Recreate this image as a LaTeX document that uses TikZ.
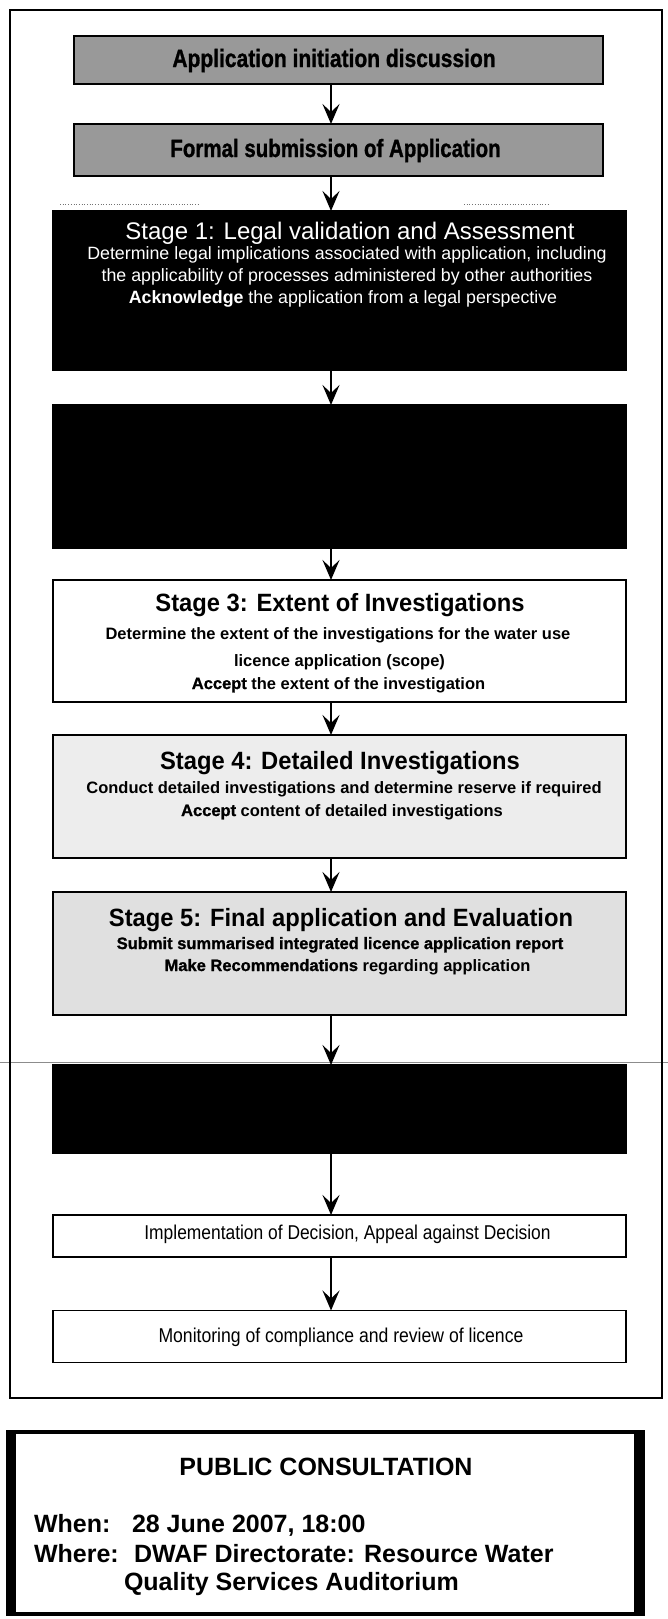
\documentclass[tikz,border=0pt]{standalone}
\usepackage{fontspec}
\setmainfont{Liberation Sans}
\newfontfamily\heavyfont{Liberation Sans Bold}[FakeBold=1.2]
\usepackage{graphicx}
\usetikzlibrary{arrows.meta}
\begin{document}
\begin{tikzpicture}[x=1pt,y=-1pt,
  stagebox/.style={draw=black, line width=1.8pt, inner sep=0pt, outer sep=0pt, minimum width=573pt},
  graybox/.style={draw=black, line width=1.8pt, fill=black!40, inner sep=0pt, outer sep=0pt, minimum width=529pt},
  txt/.style={anchor=base, inner sep=0pt, outer sep=0pt},
  arr/.style={line width=2.5pt, -{Stealth[length=20pt,width=17pt,inset=8pt]}},
  grayfont/.style={font=\fontsize{25}{30}\selectfont\heavyfont},
  whitetitle/.style={font=\fontsize{24}{28}\selectfont, text=white},
  whitebody/.style={font=\fontsize{17.8}{21}\selectfont, text=white},
  titlefont/.style={font=\fontsize{25}{30}\selectfont\bfseries},
  bodyfont/.style={font=\fontsize{16.5}{20}\selectfont\bfseries},
  plainfont/.style={font=\fontsize{20}{24}\selectfont},
  pcfont/.style={font=\fontsize{25}{30}\selectfont\bfseries}
]
\useasboundingbox (0,0) rectangle (668,1619);
\fill[white] (0,0) rectangle (668,1619);

% scan line across the page
\draw[black!45, line width=0.8pt] (0,1062) -- (668,1062);

% outer frame
\draw[line width=2.2pt] (10,10) rectangle (662,1398);

% faint dotted scan marks above stage 1
\draw[black!55, dotted, line width=0.7pt] (60,204) -- (200,204);
\draw[black!55, dotted, line width=0.7pt] (464,204) -- (550,204);

\coordinate (ax) at (331,0);

% boxes
\node[graybox, minimum height=48pt] (a) at (338.5,60) {};
\node[graybox, minimum height=52pt] (b) at (338.5,150) {};
\node[stagebox, fill=black, minimum height=159pt] (s1) at (339.5,290.5) {};
\node[stagebox, fill=black, minimum height=143pt] (s2) at (339.5,476.5) {};
\node[stagebox, fill=white, minimum height=122pt] (s3) at (339.5,641) {};
\node[stagebox, fill=black!7, minimum height=123pt] (s4) at (339.5,796.5) {};
\node[stagebox, fill=black!12, minimum height=123pt] (s5) at (339.5,953.5) {};
\node[stagebox, fill=black, minimum height=88pt] (s6) at (339.5,1109) {};
\node[stagebox, fill=white, minimum height=42pt] (impl) at (339.5,1236) {};
\node[stagebox, fill=white, minimum height=52pt] (mon) at (339.5,1336.5) {};

% arrows
\draw[arr] (a.south -| ax) -- (b.north -| ax);
\draw[arr] (b.south -| ax) -- (s1.north -| ax);
\draw[arr] (s1.south -| ax) -- (s2.north -| ax);
\draw[arr] (s2.south -| ax) -- (s3.north -| ax);
\draw[arr] (s3.south -| ax) -- (s4.north -| ax);
\draw[arr] (s4.south -| ax) -- (s5.north -| ax);
\draw[arr] (s5.south -| ax) -- (s6.north -| ax);
\draw[arr] (s6.south -| ax) -- (impl.north -| ax);
\draw[arr] (impl.south -| ax) -- (mon.north -| ax);

% texts
\node[txt, grayfont] (ta) at (334,67) {\scalebox{0.84}[1]{Application initiation discussion}};
\node[txt, grayfont] (tb) at (335.5,157) {\scalebox{0.82}[1]{Formal submission of Application}};

\node[txt, whitetitle] (s1t) at (350,239) {Stage 1: Legal validation and Assessment};
\node[txt, whitebody] (s1a) at (347,259) {Determine legal implications associated with application, including};
\node[txt, whitebody] (s1b) at (347,281) {the applicability of processes administered by other authorities};
\node[txt, whitebody] (s1c) at (343,303) {\textbf{Acknowledge} the application from a legal perspective};

\node[txt, titlefont] (s3t) at (340,611) {\scalebox{0.95}[1]{Stage 3: Extent of Investigations}};
\node[txt, bodyfont] (s3a) at (338,639) {Determine the extent of the investigations for the water use};
\node[txt, bodyfont] (s3b) at (339.5,666) {licence application (scope)};
\node[txt, bodyfont] (s3c) at (338.5,689) {{\heavyfont Accept} the extent of the investigation};

\node[txt, titlefont] (s4t) at (340,769) {\scalebox{0.95}[1]{Stage 4: Detailed Investigations}};
\node[txt, bodyfont] (s4a) at (344,793) {Conduct detailed investigations and determine reserve if required};
\node[txt, bodyfont] (s4b) at (342,816) {{\heavyfont Accept} content of detailed investigations};

\node[txt, titlefont] (s5t) at (341,926) {\scalebox{0.95}[1]{Stage 5: Final application and Evaluation}};
\node[txt, bodyfont] (s5a) at (340,949) {{\heavyfont Submit summarised integrated licence application report}};
\node[txt, bodyfont] (s5b) at (347.5,971) {{\heavyfont Make Recommendations} regarding application};

\node[txt, plainfont] (ti) at (347.5,1239) {\scalebox{0.87}[1]{Implementation of Decision, Appeal against Decision}};
\node[txt, plainfont] (tm) at (341,1342) {\scalebox{0.88}[1]{Monitoring of compliance and review of licence}};

% public consultation box
\node[draw=black, line width=4pt, fill=white, inner sep=0pt, minimum width=635pt, minimum height=182pt] (pc) at (325.5,1523) {};
\fill (6,1430) rectangle (16,1616);
\fill (634,1430) rectangle (645,1616);
\node[txt, pcfont] (pct) at (326,1475) {PUBLIC CONSULTATION};
\node[txt, pcfont, anchor=base west] (w1) at (34,1532) {When:};
\node[txt, pcfont, anchor=base west] (w2) at (132,1532) {28 June 2007, 18:00};
\node[txt, pcfont, anchor=base west] (w3) at (34,1562) {Where:};
\node[txt, pcfont, anchor=base west] (w4) at (134,1562) {DWAF Directorate: Resource Water};
\node[txt, pcfont, anchor=base west] (w5) at (124,1590) {Quality Services Auditorium};
\end{tikzpicture}
\end{document}
